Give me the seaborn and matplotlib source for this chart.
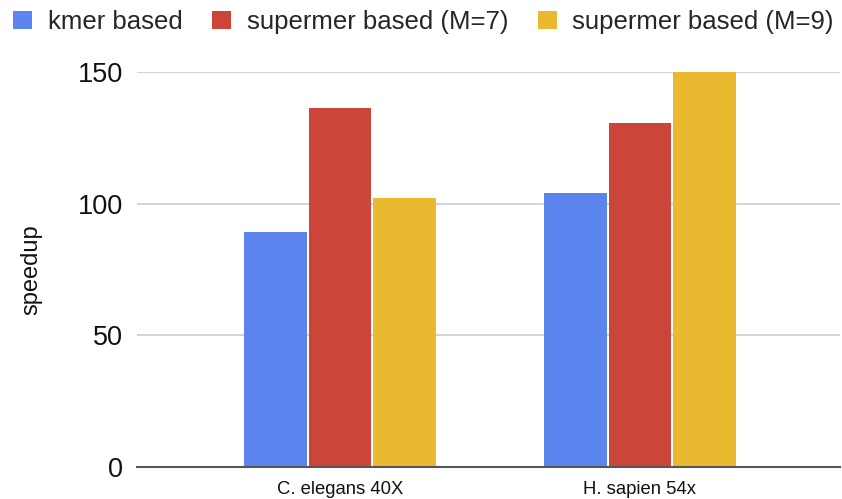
import matplotlib
matplotlib.use("Agg")
import matplotlib.pyplot as plt
import seaborn as sns
import pandas as pd
from matplotlib.patches import Patch

categories = ["C. elegans 40X", "H. sapien 54x"]
series = ["kmer based", "supermer based (M=7)", "supermer based (M=9)"]
kmer = [89.2, 104.1]
m7 = [136.3, 130.6]
m9 = [102.2, 150.0]
colors = ["#5b84ef", "#cb4538", "#e9b92f"]

rows = []
for s, vals in zip(series, [kmer, m7, m9]):
    for c, v in zip(categories, vals):
        rows.append({"cat": c, "series": s, "speedup": v})
df = pd.DataFrame(rows)

sns.set_theme(style="white")
plt.rcParams['font.family'] = ['Liberation Sans', 'DejaVu Sans']

fig = plt.figure(figsize=(8.42, 4.99), dpi=100)
ax = fig.add_axes([137/842, 1-467/499, (840-137)/842, (467-72)/499])

sns.barplot(data=df, x="cat", y="speedup", hue="series", order=categories,
            hue_order=series, palette=colors, width=0.645, gap=0.03,
            saturation=1, ax=ax, legend=False, edgecolor="none")

ax.set_xlim(-0.677, 1.667)
ax.set_ylim(0, 150)
ax.set_yticks([0, 50, 100, 150])
ax.set_yticklabels(["0", "50", "100", "150"], fontsize=19.5, color="#111111")
ax.tick_params(axis="y", length=0, pad=10)
ax.tick_params(axis="x", length=0, pad=10, labelsize=13.3, labelcolor="#111111")
ax.set_xlabel("")
ax.set_ylabel("speedup", fontsize=17, color="#111111")
ax.yaxis.set_label_coords(-0.135, 0.5)

for y in [50, 100, 150]:
    ax.axhline(y, color="#cccccc", lw=1.2, zorder=0)
for sp in ["top", "right", "left"]:
    ax.spines[sp].set_visible(False)
ax.spines["bottom"].set_color("#555555")
ax.spines["bottom"].set_linewidth(1.5)
ax.spines["bottom"].set_zorder(5)

handles = [Patch(facecolor=c, edgecolor="none") for c in colors]
fig.legend(handles, series, loc="upper left", bbox_to_anchor=(13/842, 1-10/499), ncol=3,
           frameon=False, fontsize=18.5, handlelength=0.75, handleheight=0.75,
           handletextpad=0.6, columnspacing=1.15, borderaxespad=0, borderpad=0)

fig.savefig("out.png", dpi=100)
